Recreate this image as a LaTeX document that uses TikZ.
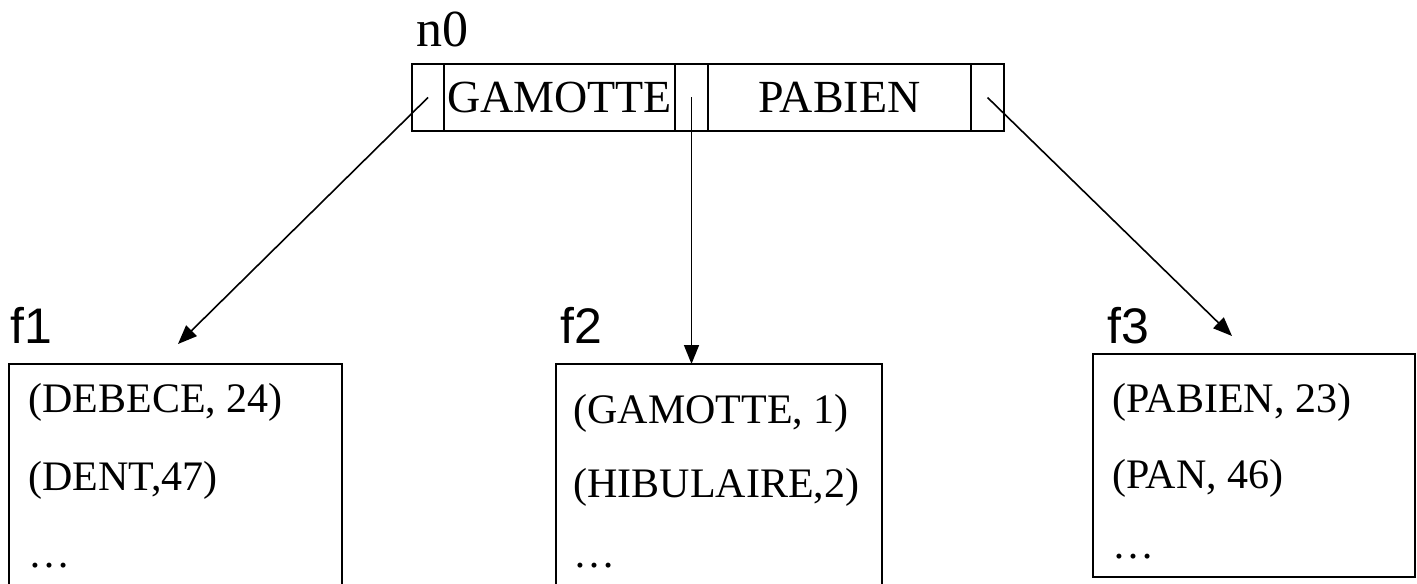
\documentclass[tikz,border=0pt]{standalone}
\usepackage{fontspec}
\setmainfont{Liberation Serif}
\newfontfamily\arialfont{Liberation Sans}
\usetikzlibrary{positioning,arrows.meta,calc}
\tikzset{
  cell/.style  ={rectangle, draw=black, line width=1pt, inner sep=0pt,
                 outer sep=0pt, minimum height=33.5pt},
  ptr/.style   ={cell, minimum width=16.5pt},
  key/.style   ={cell, font=\fontsize{23}{27}\selectfont},
  leaf/.style  ={rectangle, draw=black, line width=1pt, inner sep=0pt,
                 outer sep=0pt, anchor=north west},
  entry/.style ={anchor=base west, inner sep=0pt, font=\fontsize{21}{25}\selectfont},
  lbl/.style   ={anchor=base west, inner sep=0pt, font=\arialfont\fontsize{25}{30}\selectfont},
  arr/.style   ={-{Triangle[length=9.5pt, width=7.5pt]}, line width=0.8pt},
}
\begin{document}
\begin{tikzpicture}[x=0.5pt, y=-0.5pt]
  \useasboundingbox (0,0) rectangle (1417,583);
  \clip (0,0) rectangle (1417,583);

  % root node n0
  \node[anchor=base west, inner sep=0pt, font=\fontsize{26}{30}\selectfont] (n0) at (416,47) {n0};
  \node[ptr, minimum width=16pt, anchor=west] (p0) at (412,97.5) {};
  \node[key, minimum width=115.5pt, text width=112.5pt, inner xsep=1.5pt, align=left,
        right=0pt of p0] (k1) {GAMOTTE};
  \node[ptr, right=0pt of k1] (p1) {};
  \node[key, minimum width=131.5pt, right=0pt of p1] (k2) {PABIEN};
  \node[ptr, right=0pt of k2] (p2) {};

  % leaves
  \node[leaf, minimum width=166.5pt, minimum height=128pt] (f1box) at (9,364) {};
  \node[leaf, minimum width=163pt, minimum height=128pt] (f2box) at (556,364) {};
  \node[leaf, minimum width=161pt, minimum height=111.5pt] (f3box) at (1093,354) {};

  \node[lbl] (f1) at (10,343) {f1};
  \node[lbl] (f2) at (560,343) {f2};
  \node[lbl] (f3) at (1107,343) {f3};

  \node[entry] (e11) at (28,412) {(DEBECE, 24)};
  \node[entry] (e12) at (28,490) {(DENT,47)};
  \node[entry] (e13) at (28,567) {…};

  \node[entry] (e21) at (573,423) {(GAMOTTE, 1)};
  \node[entry] (e22) at (573,497) {(HIBULAIRE,2)};
  \node[entry] (e23) at (573,567) {…};

  \node[entry] (e31) at (1112,412) {(PABIEN, 23)};
  \node[entry] (e32) at (1112,488) {(PAN, 46)};
  \node[entry] (e33) at (1112,558) {…};

  % pointers
  \coordinate (t1) at (178,344);
  \coordinate (t3) at (1232,336);
  \draw[arr] (p0.center) -- (t1);
  \draw[arr] (p1.center) -- (p1.center |- f2box.north);
  \draw[arr] (p2.center) -- (t3);
\end{tikzpicture}
\end{document}
